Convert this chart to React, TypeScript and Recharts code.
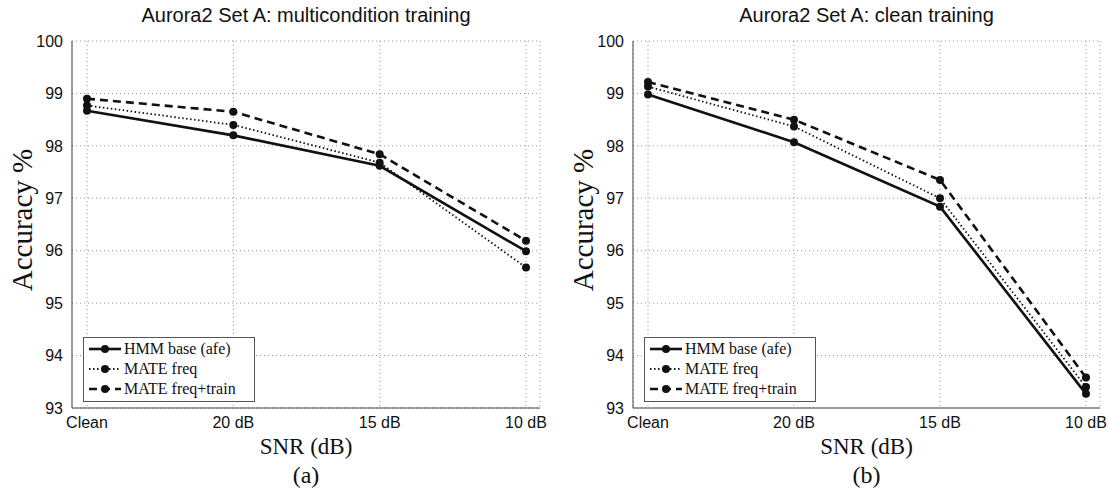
import React from "react";
import { CartesianGrid, Line, LineChart, XAxis, YAxis } from "recharts";

const CATEGORIES = ["Clean", "20 dB", "15 dB", "10 dB"];
const Y_TICKS = [93, 94, 95, 96, 97, 98, 99, 100];

// (a) multicondition training
const MULTI_HMM = [98.67, 98.2, 97.62, 95.99];
const MULTI_MATE = [98.77, 98.4, 97.68, 95.68];
const MULTI_MATE_TRAIN = [98.9, 98.65, 97.84, 96.19];

// (b) clean training
const CLEAN_HMM = [98.98, 98.07, 96.84, 93.27];
const CLEAN_MATE = [99.13, 98.37, 97.0, 93.4];
const CLEAN_MATE_TRAIN = [99.22, 98.5, 97.35, 93.58];

const SERIES = [
  { key: "hmm", name: "HMM base (afe)", dash: undefined, width: 2.6 },
  { key: "mate", name: "MATE freq", dash: "1.5 2.5", width: 1.8 },
  { key: "mateTrain", name: "MATE freq+train", dash: "8 5", width: 2.6 },
];

const SANS = "'Liberation Sans', Arial, sans-serif";
const SERIF = "'Liberation Serif', 'Times New Roman', serif";
const INK = "#111";

function buildRows(hmm: number[], mate: number[], mateTrain: number[]) {
  return CATEGORIES.map((snr, i) => ({ snr, hmm: hmm[i], mate: mate[i], mateTrain: mateTrain[i] }));
}

function LegendBox({ left }: { left: number }) {
  return (
    <div
      style={{
        position: "absolute",
        left,
        top: 337,
        border: "1px solid #555",
        background: "#fff",
        width: 172,
        height: 65,
        paddingTop: 1,
        boxSizing: "border-box",
      }}
    >
      {SERIES.map((s) => (
        <div key={s.key} style={{ display: "flex", alignItems: "center", height: 20 }}>
          <svg width={40} height={12} style={{ flex: "none" }}>
            <line x1={5} x2={37} y1={6} y2={6} stroke={INK} strokeWidth={s.width} strokeDasharray={s.dash} />
            <circle cx={21} cy={6} r={4} fill={INK} />
          </svg>
          <span style={{ fontFamily: SERIF, fontSize: 16, color: INK, lineHeight: "20px" }}>{s.name}</span>
        </div>
      ))}
    </div>
  );
}

function Panel({
  left,
  title,
  caption,
  rows,
  marginLeft,
  marginRight,
}: {
  left: number;
  title: string;
  caption: string;
  rows: ReturnType<typeof buildRows>;
  marginLeft: number;
  marginRight: number;
}) {
  const plotLeft = marginLeft + 40;
  const plotRight = 554 - marginRight;
  const center = (plotLeft + plotRight) / 2;
  return (
    <div style={{ position: "absolute", left, top: 0, width: 554, height: 491 }}>
      <div
        style={{
          position: "absolute",
          left: center - 250,
          width: 500,
          top: 4,
          textAlign: "center",
          fontFamily: SANS,
          fontSize: 20,
          color: INK,
        }}
      >
        {title}
      </div>
      <div
        style={{
          position: "absolute",
          left: plotLeft - 50 - 120,
          top: 220 - 20,
          width: 240,
          height: 40,
          lineHeight: "40px",
          textAlign: "center",
          transform: "rotate(-90deg)",
          fontFamily: SERIF,
          fontSize: 29,
          color: INK,
        }}
      >
        Accuracy %
      </div>
      <LineChart
        width={554}
        height={491}
        data={rows}
        margin={{ top: 41, right: marginRight, bottom: 53, left: marginLeft }}
      >
        <CartesianGrid stroke="#999" strokeDasharray="1 3" />
        <XAxis
          dataKey="snr"
          padding={{ left: 15, right: 14 }}
          tick={{ fontFamily: SANS, fontSize: 16, fill: INK }}
          tickLine={false}
          tickMargin={3}
          axisLine={{ stroke: "#444" }}
          height={30}
        />
        <YAxis
          domain={[93, 100]}
          ticks={Y_TICKS}
          width={40}
          tick={{ fontFamily: SANS, fontSize: 16, fill: INK }}
          tickLine={false}
          tickMargin={3}
          axisLine={{ stroke: "#444" }}
          interval={0}
        />
        <YAxis
          yAxisId="border"
          orientation="right"
          width={0}
          tick={false}
          tickLine={false}
          axisLine={{ stroke: "#999", strokeDasharray: "1 3" }}
        />
        {SERIES.map((s) => (
          <Line
            key={s.key}
            dataKey={s.key}
            name={s.name}
            type="linear"
            stroke={INK}
            strokeWidth={s.width}
            strokeDasharray={s.dash}
            dot={{ r: 4, fill: INK, stroke: INK, strokeWidth: 0, strokeDasharray: "" }}
            activeDot={false}
            isAnimationActive={false}
          />
        ))}
      </LineChart>
      <LegendBox left={plotLeft + 11} />
      <div
        style={{
          position: "absolute",
          left: center - 100,
          width: 200,
          top: 433,
          textAlign: "center",
          fontFamily: SERIF,
          fontSize: 23,
          color: INK,
          lineHeight: "28px",
        }}
      >
        SNR (dB)
      </div>
      <div
        style={{
          position: "absolute",
          left: center - 100,
          width: 200,
          top: 461,
          textAlign: "center",
          fontFamily: SERIF,
          fontSize: 24,
          color: INK,
          lineHeight: "28px",
        }}
      >
        {caption}
      </div>
    </div>
  );
}

export default function App() {
  const multiRows = buildRows(MULTI_HMM, MULTI_MATE, MULTI_MATE_TRAIN);
  const cleanRows = buildRows(CLEAN_HMM, CLEAN_MATE, CLEAN_MATE_TRAIN);
  return (
    <div style={{ position: "absolute", left: 0, top: 0, width: 1108, height: 491, background: "#fff" }}>
      <Panel
        left={0}
        title="Aurora2 Set A: multicondition training"
        caption="(a)"
        rows={multiRows}
        marginLeft={32}
        marginRight={14}
      />
      <Panel
        left={554}
        title="Aurora2 Set A: clean training"
        caption="(b)"
        rows={cleanRows}
        marginLeft={39}
        marginRight={8}
      />
    </div>
  );
}
